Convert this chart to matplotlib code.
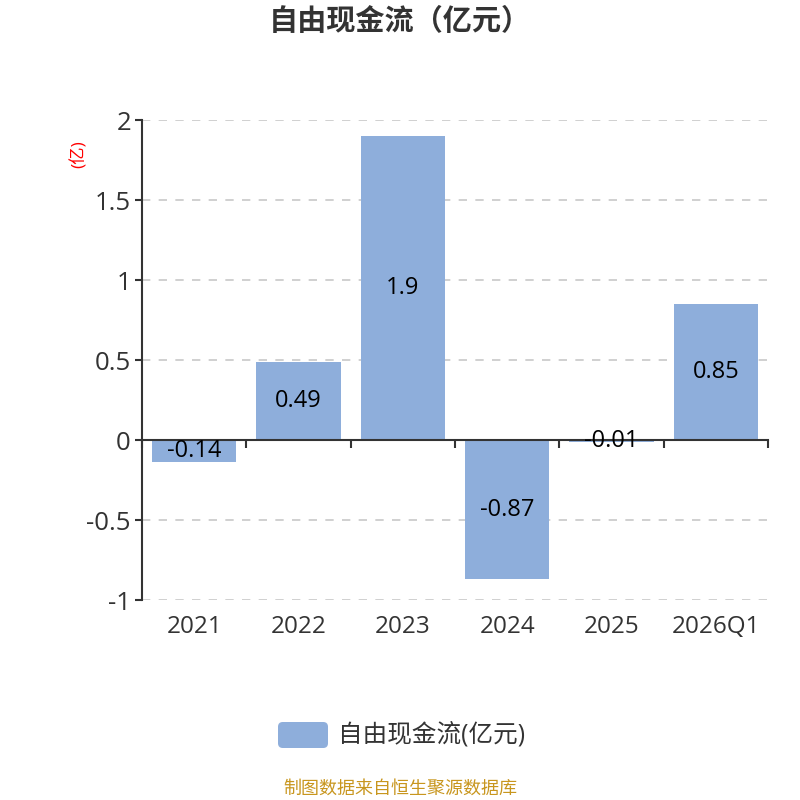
import numpy as np
import matplotlib.pyplot as plt
from matplotlib.patches import FancyBboxPatch
import matplotlib.transforms as mtransforms

plt.rcParams['font.family'] = ['Open Sans', 'Noto Sans CJK SC', 'DejaVu Sans']

categories = ["2021", "2022", "2023", "2024", "2025", "2026Q1"]
values = [-0.14, 0.49, 1.9, -0.87, -0.01, 0.85]
value_labels = ["-0.14", "0.49", "1.9", "-0.87", "-0.01", "0.85"]
yticks = [-1, -0.5, 0, 0.5, 1, 1.5, 2]
ytick_labels = ["-1", "-0.5", "0", "0.5", "1", "1.5", "2"]

bar_color = "#8EAEDB"
axis_color = "#333333"

fig = plt.figure(figsize=(8, 8), dpi=100)
ax = fig.add_axes([0.1775, 0.25, 0.7825, 0.6])

x = np.arange(len(categories))
ax.bar(x, values, width=0.81, color=bar_color, zorder=2)

for xi, v, lab in zip(x, values, value_labels):
    ax.text(xi, v / 2, lab, ha="center", va="center", fontsize=17, color="black", zorder=3)

ax.set_xlim(-0.5, len(categories) - 0.5)
ax.set_ylim(-1, 2)
ax.set_yticks(yticks, ytick_labels)
ax.tick_params(axis="y", length=5, width=1.5, color=axis_color, labelsize=18.5, labelcolor=axis_color, pad=3)

# grid lines (skip zero, the axis line sits there)
for yv in yticks:
    if yv != 0:
        ax.axhline(yv, color="#c8c8c8", linestyle=(0, (5, 5)), linewidth=1.2, zorder=1)

# category axis at zero, ticks on boundaries
ax.spines["bottom"].set_position(("data", 0))
ax.spines["bottom"].set_color(axis_color)
ax.spines["bottom"].set_linewidth(1.5)
ax.spines["left"].set_color(axis_color)
ax.spines["left"].set_linewidth(1.5)
ax.spines["top"].set_visible(False)
ax.spines["right"].set_visible(False)
ax.set_xticks(np.arange(len(categories) + 1) - 0.5)
ax.set_xticklabels([])
ax.tick_params(axis="x", direction="out", length=6, width=1.5, color=axis_color)

trans = mtransforms.blended_transform_factory(ax.transData, ax.transAxes)
for xi, c in zip(x, categories):
    ax.text(xi, -0.056, c, transform=trans, ha="center", va="center", fontsize=17.5, color=axis_color)

fig.text(0.5, 0.972, "自由现金流（亿元）", ha="center", va="center", fontsize=21,
         fontweight="bold", color=axis_color)
fig.text(0.099, 0.807, "(亿)", ha="center", va="center", fontsize=12.5, color="red", rotation=90)

# legend
patch = FancyBboxPatch((0.3475, 0.065), 0.0625, 0.0325, boxstyle="round,pad=0,rounding_size=0.006",
                       transform=fig.transFigure, facecolor=bar_color, edgecolor="none")
fig.patches.append(patch)
fig.text(0.4225, 0.081, "自由现金流(亿元)", ha="left", va="center", fontsize=17.7, color=axis_color)

fig.text(0.5, 0.014, "制图数据来自恒生聚源数据库", ha="center", va="center", fontsize=13, color="#C8961E")

fig.savefig("out.png", dpi=100)
